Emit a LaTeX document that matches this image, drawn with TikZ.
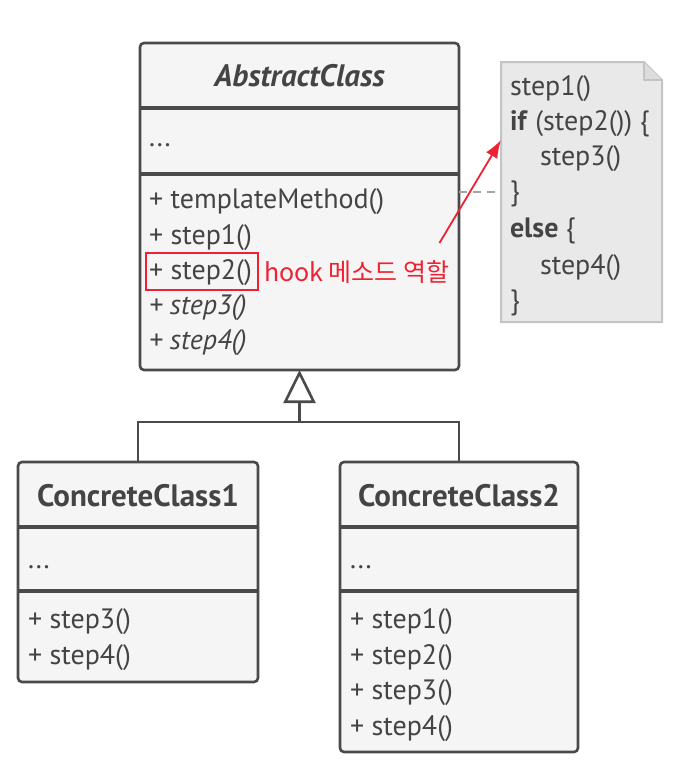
\documentclass[tikz,border=0pt]{standalone}
\usepackage{fontspec}
\setmainfont{PT Sans}
\newfontfamily\krfont{Noto Sans CJK KR}
\usetikzlibrary{arrows.meta,calc}
\definecolor{bd}{HTML}{4A4A4A}
\definecolor{tx}{HTML}{444444}
\definecolor{boxfill}{HTML}{F5F5F5}
\definecolor{notefill}{HTML}{E9E9E9}
\definecolor{notebd}{HTML}{C4C4C4}
\definecolor{hl}{HTML}{EE2233}
\begin{document}
\begin{tikzpicture}[x=1pt,y=-1pt,
  every node/.style={inner sep=0pt,outer sep=0pt},
  cls/.style={draw=bd,fill=boxfill,line width=2.6pt,rounded corners=4pt,anchor=north west},
  sepline/.style={draw=bd,line width=4pt},
  txt/.style={anchor=west,text=tx,font=\fontsize{28}{30}\selectfont},
  ttl/.style={anchor=center,text=tx,font=\fontsize{31}{34}\selectfont\bfseries},
  conn/.style={draw=bd,line width=2.6pt},
  notetxt/.style={anchor=west,text=tx,font=\fontsize{28}{30}\selectfont}]
\useasboundingbox (0,0) rectangle (686,772);
% AbstractClass
\node[cls,minimum width=319pt,minimum height=327pt] (ac) at (140,43) {};
\draw[sepline] (ac.west |- 0,107.5) -- (ac.east |- 0,107.5);
\draw[sepline] (ac.west |- 0,173.5) -- (ac.east |- 0,173.5);
\node[ttl,font=\fontsize{31}{34}\selectfont\bfseries\itshape] (act) at (299.5,76) {AbstractClass};
\node[txt] (aca) at (149,145) {...};
\node[txt] (m1) at (149,202) {+ templateMethod()};
\node[txt] (m2) at (149,238) {+ step1()};
\node[txt] (m3) at (149,273) {+ step2()};
\node[txt,font=\fontsize{28}{30}\selectfont\itshape] (m4) at (149,308) {+ step3()};
\node[txt,font=\fontsize{28}{30}\selectfont\itshape] (m5) at (149,343) {+ step4()};
% hook highlight
\node[draw=hl,line width=2.4pt,minimum width=112pt,minimum height=37pt,anchor=north west] (hbox) at (146,253) {};
\node[anchor=west,text=hl,font=\krfont\fontsize{25}{28}\selectfont] (hook) at (264,272) {hook 메소드 역할};
% Note
\coordinate (note) at (581.5,192);
\coordinate (notew) at (501,192);
\draw[draw=notebd,fill=notefill,line width=2pt] (501,62) -- (644,62) -- (662,80) -- (662,322) -- (501,322) -- cycle;
\draw[draw=notebd,fill=notebd!60,line width=2pt,line join=round] (644,62) -- (644,80) -- (662,80);
\node[notetxt] (n1) at (510,89) {step1()};
\node[notetxt] (n2) at (510,124) {\textbf{if} (step2()) \{};
\node[notetxt] (n3) at (540,159) {step3()};
\node[notetxt] (n4) at (510,194) {\}};
\node[notetxt] (n5) at (510,231) {\textbf{else} \{};
\node[notetxt] (n6) at (540,268) {step4()};
\node[notetxt] (n7) at (510,303) {\}};
\draw[draw=bd!50,line width=2pt,dash pattern=on 8pt off 6pt] (ac.east |- notew) -- (notew);
\draw[draw=hl,line width=1.8pt,-{Latex[length=18pt,width=13pt]}] ([xshift=-10pt,yshift=29pt]hook.east) -- ([yshift=52pt]notew);
% Concrete classes
\node[cls,minimum width=240pt,minimum height=220pt] (c1) at (18,462) {};
\draw[sepline] (c1.west |- 0,526.5) -- (c1.east |- 0,526.5);
\draw[sepline] (c1.west |- 0,591) -- (c1.east |- 0,591);
\node[ttl] (c1t) at (138,496) {ConcreteClass1};
\node[txt] (c1a) at (28,567) {...};
\node[txt] (c1m1) at (28,622) {+ step3()};
\node[txt] (c1m2) at (28,658) {+ step4()};
\node[cls,minimum width=238pt,minimum height=290pt] (c2) at (340,462) {};
\draw[sepline] (c2.west |- 0,526.5) -- (c2.east |- 0,526.5);
\draw[sepline] (c2.west |- 0,591) -- (c2.east |- 0,591);
\node[ttl] (c2t) at (459,496) {ConcreteClass2};
\node[txt] (c2a) at (350,567) {...};
\node[txt] (c2m1) at (350,622) {+ step1()};
\node[txt] (c2m2) at (350,658) {+ step2()};
\node[txt] (c2m3) at (350,693) {+ step3()};
\node[txt] (c2m4) at (350,729) {+ step4()};
% inheritance
\coordinate (j) at (ac.south |- 0,422);
\draw[conn,-{Triangle[open,length=33pt,width=32pt,line width=2.6pt]}] (c1.north) |- (j) -- (ac.south);
\draw[conn] (c2.north) |- (j);
\end{tikzpicture}
\end{document}
